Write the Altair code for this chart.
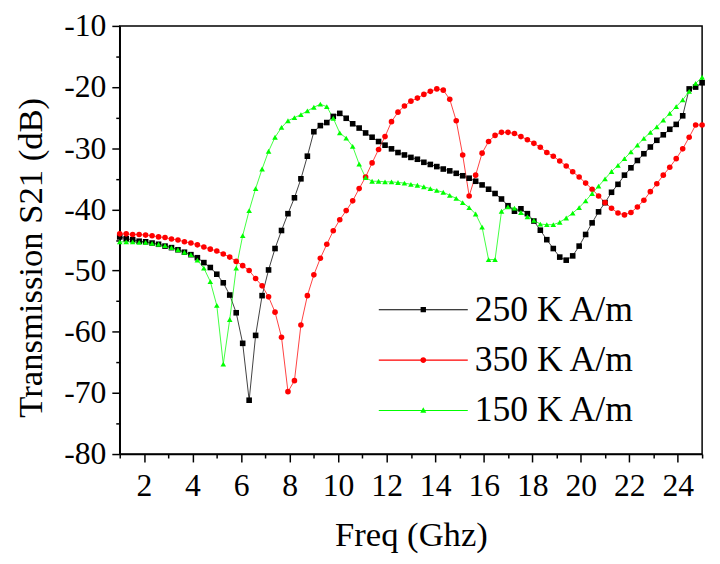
import altair as alt
import pandas as pd

# ---------------- data ----------------
freq = [1.0, 1.267, 1.533, 1.8, 2.067, 2.333, 2.6, 2.867, 3.133, 3.4,
        3.667, 3.933, 4.2, 4.467, 4.733, 5.0, 5.267, 5.533, 5.8, 6.067,
        6.333, 6.6, 6.867, 7.133, 7.4, 7.667, 7.933, 8.2, 8.467, 8.733,
        9.0, 9.267, 9.533, 9.8, 10.067, 10.333, 10.6, 10.867, 11.133, 11.4,
        11.667, 11.933, 12.2, 12.467, 12.733, 13.0, 13.267, 13.533, 13.8, 14.067,
        14.333, 14.6, 14.867, 15.133, 15.4, 15.667, 15.933, 16.2, 16.467, 16.733,
        17.0, 17.267, 17.533, 17.8, 18.067, 18.333, 18.6, 18.867, 19.133, 19.4,
        19.667, 19.933, 20.2, 20.467, 20.733, 21.0, 21.267, 21.533, 21.8, 22.067,
        22.333, 22.6, 22.867, 23.133, 23.4, 23.667, 23.933, 24.2, 24.467, 24.733,
        25.0]

s21_250 = [-44.5, -44.8, -44.95, -45.2, -45.3, -45.5, -45.7, -46.0, -46.25, -46.6,
           -47.0, -47.4, -47.9, -48.7, -49.5, -50.6, -52.0, -54.0, -56.9, -61.9,
           -71.2, -60.6, -54.1, -49.9, -46.4, -43.45, -40.7, -38.1, -35.0, -31.3,
           -27.3, -26.3, -25.8, -24.8, -24.3, -25.1, -26.0, -26.7, -27.5, -28.2,
           -28.9, -29.5, -30.1, -30.7, -31.1, -31.5, -31.8, -32.3, -32.65, -33.0,
           -33.4, -33.7, -34.1, -34.5, -34.9, -35.4, -36.0, -36.7, -37.4, -38.3,
           -39.4, -40.3, -39.9, -40.7, -41.9, -43.4, -44.95, -46.4, -47.8, -48.3,
           -47.6, -46.0, -44.1, -42.2, -40.4, -38.9, -37.2, -35.9, -34.4, -33.2,
           -32.0, -30.9, -29.8, -28.7, -27.8, -26.9, -26.1, -24.7, -20.3, -20.0,
           -19.3]

s21_350 = [-44.0, -44.0, -44.1, -44.1, -44.2, -44.3, -44.5, -44.6, -44.85, -45.0,
           -45.3, -45.5, -45.8, -46.15, -46.5, -46.8, -47.3, -47.8, -48.5, -49.2,
           -50.0, -51.3, -52.5, -54.3, -56.8, -60.9, -69.8, -68.0, -58.9, -54.1,
           -50.7, -48.0, -45.7, -43.5, -41.7, -40.2, -38.6, -36.6, -34.7, -32.4,
           -30.2, -28.1, -25.65, -24.1, -23.1, -22.3, -21.8, -21.2, -20.7, -20.3,
           -20.5, -22.0, -25.5, -31.1, -37.8, -34.4, -30.8, -28.9, -27.9, -27.4,
           -27.4, -27.6, -28.1, -28.6, -29.2, -29.85, -30.7, -31.3, -32.1, -32.9,
           -33.85, -34.7, -35.7, -36.7, -37.8, -38.9, -39.8, -40.6, -40.9, -40.5,
           -39.6, -38.5, -37.1, -35.8, -34.4, -33.1, -31.7, -30.1, -28.2, -26.2,
           -26.2]

s21_150 = [-45.3, -45.3, -45.3, -45.4, -45.4, -45.55, -45.7, -45.9, -46.25, -46.6,
           -47.0, -47.4, -48.3, -49.6, -51.8, -55.7, -65.3, -58.0, -49.6, -44.3,
           -40.2, -36.6, -33.4, -30.5, -28.2, -26.6, -25.5, -25.0, -24.5, -23.9,
           -23.3, -22.8, -23.2, -25.1, -27.5, -28.35, -29.7, -32.6, -34.8, -35.4,
           -35.4, -35.5, -35.5, -35.6, -35.7, -35.9, -36.05, -36.3, -36.6, -36.9,
           -37.2, -37.7, -38.2, -38.9, -39.7, -40.75, -42.9, -48.2, -48.2, -40.3,
           -39.6, -39.8, -40.5, -41.2, -41.8, -42.4, -42.5, -42.5, -42.1, -41.4,
           -40.6, -39.7, -38.6, -37.4, -36.2, -35.0, -33.8, -32.8, -31.7, -30.6,
           -29.5, -28.4, -27.4, -26.5, -25.4, -24.3, -23.2, -22.1, -20.7, -19.4,
           -18.4]

series_names = ["250 K A/m", "350 K A/m", "150 K A/m"]
series_colors = ["#000000", "#ff0000", "#00ff00"]
series_shapes = ["square", "circle", "triangle-up"]

x_ticks = [1, 2, 3, 4, 5, 6, 7, 8, 9, 10, 11, 12, 13, 14, 15, 16, 17, 18, 19, 20,
           21, 22, 23, 24, 25]
y_ticks = [-80, -75, -70, -65, -60, -55, -50, -45, -40, -35, -30, -25, -20, -15, -10]

# legend glyphs: a line with the marker in the middle
legend_paths = [
    "M-5,-0.06 L5,-0.06 L5,0.06 L-5,0.06 Z M-0.3,-0.3 L0.3,-0.3 L0.3,0.3 L-0.3,0.3 Z",
    "M-5,-0.06 L5,-0.06 L5,0.06 L-5,0.06 Z M0.33,0 A0.33,0.33 0 1,1 -0.33,0 A0.33,0.33 0 1,1 0.33,0 Z",
    "M-5,-0.06 L5,-0.06 L5,0.06 L-5,0.06 Z M0,-0.36 L0.34,0.24 L-0.34,0.24 Z",
]

rows = []
for name, vals in zip(series_names, [s21_250, s21_350, s21_150]):
    for f, v in zip(freq, vals):
        rows.append({"freq": f, "s21": v, "series": name})
df = pd.DataFrame(rows)

FONT = "Liberation Serif"

color_scale = alt.Scale(domain=series_names, range=series_colors)

x_enc = alt.X(
    "freq:Q",
    scale=alt.Scale(domain=[1, 25], nice=False, zero=False),
    axis=alt.Axis(
        title="Freq (Ghz)",
        values=x_ticks,
        labelExpr="datum.value % 2 == 0 ? toString(datum.value) : ''",
        tickSize={"condition": {"test": "datum.value % 2 != 0", "value": 4}, "value": 8},
        labelPadding=9,
        titleY=92,
        titleBaseline="alphabetic",
        grid=False,
    ),
)
y_enc = alt.Y(
    "s21:Q",
    scale=alt.Scale(domain=[-80, -10], nice=False, zero=False),
    axis=alt.Axis(
        title="Transmission S21 (dB)",
        values=y_ticks,
        labelExpr="datum.value % 10 == 0 ? toString(datum.value) : ''",
        tickSize={"condition": {"test": "datum.value % 10 != 0", "value": 4}, "value": 8},
        labelPadding=6,
        titleX=-79,
        titleY=234,
        titleBaseline="alphabetic",
        grid=False,
    ),
)

base = alt.Chart(df).encode(x=x_enc, y=y_enc)

lines = base.mark_line(strokeWidth=1, opacity=0.75).encode(
    color=alt.Color("series:N", scale=color_scale, legend=None),
    detail="series:N",
)

points = base.mark_point(filled=True, size=32, opacity=1).encode(
    color=alt.Color("series:N", scale=color_scale, legend=None),
    shape=alt.Shape("series:N", scale=alt.Scale(domain=series_names, range=series_shapes), legend=None),
)

leg = dict(
    orient="none",
    legendX=289,
    legendY=269,
    title=None,
    labelFont=FONT,
    labelFontSize=36,
    labelColor="black",
    labelLimit=400,
    labelOffset=34,
    symbolSize=324,
    symbolStrokeWidth=0,
    rowPadding=15,
    padding=0,
)

legend_layer = alt.Chart(df).transform_filter("false").mark_point(filled=True, opacity=1).encode(
    x=x_enc,
    y=y_enc,
    color=alt.Color("series:N", scale=color_scale, legend=alt.Legend(**leg)),
    shape=alt.Shape("series:N", scale=alt.Scale(domain=series_names, range=legend_paths),
                    legend=alt.Legend(**leg)),
)

chart = (
    alt.layer(lines, points, legend_layer)
    .resolve_scale(shape="independent", color="independent")
    .properties(
        width=589,
        height=433,
        autosize=alt.AutoSizeParams(type="none"),
        padding={"left": 113, "top": 15, "right": 10, "bottom": 100},
        background="white",
    )
    .configure_view(stroke="black", strokeWidth=1.5)
    .configure_axis(
        labelFont=FONT,
        labelFontSize=32,
        labelColor="black",
        titleFont=FONT,
        titleFontSize=35,
        titleFontWeight="normal",
        titleColor="black",
        domainColor="black",
        domainWidth=1.5,
        tickColor="black",
        tickWidth=1.5,
    )
)

chart.save("out.html", embed_options={"renderer": "svg", "actions": False})
